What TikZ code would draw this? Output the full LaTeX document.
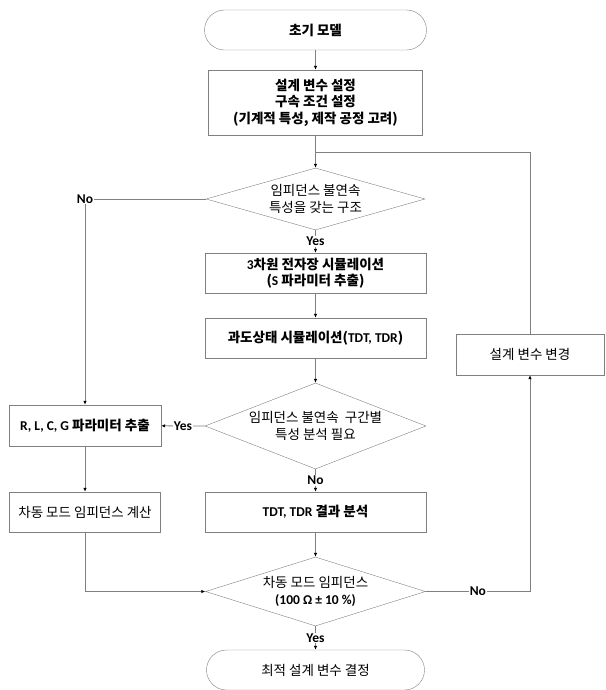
\documentclass[tikz,border=0pt]{standalone}
\usepackage{fontspec}
\setmainfont{Noto Sans CJK KR}
\newfontfamily\lat{Carlito}
\usetikzlibrary{arrows.meta,shapes.geometric}
\definecolor{edgegray}{HTML}{808080}

\begin{document}
\begin{tikzpicture}[x=1pt,y=-1pt,
  font=\fontsize{13.5}{16.5}\selectfont,
  proc/.style={draw=edgegray,rectangle,inner sep=0pt,align=center},
  bproc/.style={proc,font=\bfseries\fontsize{13.5}{16.5}\selectfont},
  term/.style={proc,rounded corners=20pt},
  decide/.style={draw=edgegray,diamond,inner sep=0pt},
  lbl/.style={fill=white,text=black,inner sep=1pt,font=\lat\bfseries\fontsize{13.5}{15}\selectfont},
  link/.style={edgegray,line width=0.8pt},
  arr/.style={link,-{Latex[length=4pt,width=3.5pt,black]}}]
\useasboundingbox (0,0) rectangle (605,690);
% main column
\node[term,minimum width=222,minimum height=40,font=\bfseries\fontsize{13.5}{16.5}\selectfont] (start) at (315.5,30) {초기 모델};
\node[bproc,minimum width=214,minimum height=65] (setvar) at (315.5,102.5) {설계 변수 설정\\구속 조건 설정\\(기계적 특성, 제작 공정 고려)};
\node[decide,minimum width=219,minimum height=62,
  label={[align=center]center:임피던스 불연속\\특성을 갖는 구조}] (disc) at (315.5,199) {};
\node[bproc,minimum width=221,minimum height=40] (emsim) at (315.5,273) {{\lat 3}차원 전자장 시뮬레이션\\({\lat S} 파라미터 추출)};
\node[bproc,minimum width=221,minimum height=40] (trsim) at (315.5,338) {과도상태 시뮬레이션({\lat TDT, TDR})};
\node[decide,minimum width=221,minimum height=86,
  label={[align=center]center:임피던스 불연속~~구간별\\특성 분석 필요}] (need) at (315.5,426) {};
\node[bproc,minimum width=221,minimum height=40] (tdr) at (315.5,512) {{\lat TDT, TDR} 결과 분석};
\node[decide,minimum width=220,minimum height=69,
  label={[align=center]center:차동 모드 임피던스\\{\lat\bfseries (100 Ω ± 10 \%)}}] (zdiff) at (315.5,591.5) {};
\node[term,minimum width=218,minimum height=40] (best) at (315.5,670) {최적 설계 변수 결정};
% left branch
\node[bproc,minimum width=152,minimum height=41] (rlcg) at (85,425.5) {{\lat R, L, C, G} 파라미터 추출};
\node[proc,minimum width=151,minimum height=40] (calc) at (85,512) {차동 모드 임피던스 계산};
% right branch
\node[proc,minimum width=148,minimum height=41] (change) at (530,354.5) {설계 변수 변경};
\coordinate (merge) at (315.5,152);
% connectors
\draw[arr] (start) -- (setvar);
\draw[arr] (setvar) -- (disc.north);
\draw[arr] (disc.south) -- node[lbl] {Yes} (emsim);
\draw[arr] (emsim) -- (trsim);
\draw[arr] (trsim) -- (need.north);
\draw[arr] (need.south) -- node[lbl] {No} (tdr);
\draw[arr] (need.west) -- node[lbl] {Yes} (rlcg);
\draw[arr] (disc.west) -| node[lbl,pos=0.5] {No} (rlcg);
\draw[arr] (rlcg) -- (calc);
\draw[arr] (calc.south) |- (zdiff.west);
\draw[arr] (tdr) -- (zdiff.north);
\draw[arr] (zdiff.east) -| node[lbl,pos=0.25] {No} (change.south);
\draw[link] (change.north) |- (merge);
\draw[arr] (zdiff.south) -- node[lbl] {Yes} (best);
\end{tikzpicture}
\end{document}
